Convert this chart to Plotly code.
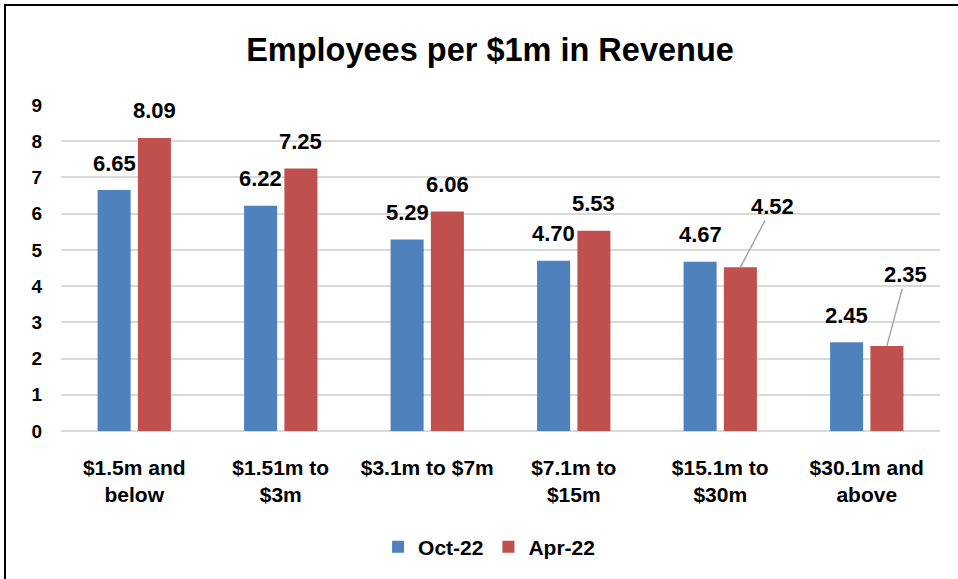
import plotly.graph_objects as go

categories = ["$1.5m and<br>below", "$1.51m to<br>$3m", "$3.1m to $7m",
              "$7.1m to<br>$15m", "$15.1m to<br>$30m", "$30.1m and<br>above"]
oct22 = [6.65, 6.22, 5.29, 4.70, 4.67, 2.45]
apr22 = [8.09, 7.25, 6.06, 5.53, 4.52, 2.35]
y_ticks = list(range(0, 10))

FONT = "Liberation Sans, Arial, sans-serif"
BLUE = "#4F81BD"
RED = "#C0504D"
BARGAP = 0.45
off = (1 - BARGAP) / 4  # center offset of each bar within the group

xpos = list(range(len(categories)))

fig = go.Figure()
fig.add_bar(x=xpos, y=oct22, name="<b>Oct-22</b>", marker_color=BLUE,
            marker_line_width=0)
fig.add_bar(x=xpos, y=apr22, name="<b>Apr-22</b>", marker_color=RED,
            marker_line_width=0)

annotations = []
label_font = dict(family=FONT, size=22, color="black")
# labels moved aside with a leader line (index: (ax, ay) in px)
leaders = {4: (32, -61), 5: (19, -71)}
for i in xpos:
    annotations.append(dict(x=i - off, y=oct22[i], xref="x", yref="y",
                            text="<b>%.2f</b>" % oct22[i], showarrow=False,
                            yshift=27, font=label_font))
    if i in leaders:
        ax, ay = leaders[i]
        annotations.append(dict(x=i + off, y=apr22[i], xref="x", yref="y",
                                text="<b>%.2f</b>" % apr22[i], showarrow=True,
                                arrowhead=0, arrowwidth=1.5, arrowcolor="#A6A6A6",
                                ax=ax, ay=ay, font=label_font, standoff=0))
    else:
        annotations.append(dict(x=i + off, y=apr22[i], xref="x", yref="y",
                                text="<b>%.2f</b>" % apr22[i], showarrow=False,
                                yshift=27, font=label_font))

fig.update_layout(
    width=958, height=579,
    margin=dict(l=61, r=18, t=105, b=148),
    paper_bgcolor="white", plot_bgcolor="white",
    barmode="group", bargap=BARGAP, bargroupgap=0.18,
    title=dict(text="<b>Employees per $1m in Revenue</b>", x=490 / 958, xanchor="center",
               y=1 - 50 / 579, yanchor="middle",
               font=dict(family=FONT, size=32.5, color="black")),
    font=dict(family=FONT, size=20, color="black"),
    showlegend=True,
    legend=dict(orientation="h", x=0.487, xanchor="center",
                y=(431 - 547) / 326, yanchor="middle",
                font=dict(family=FONT, size=21, color="black"),
                itemwidth=30, traceorder="normal"),
    annotations=annotations,
    shapes=[dict(type="rect", xref="paper", yref="paper",
                 x0=(5 - 61) / 879, x1=1.2, y0=-0.7, y1=(431 - 5) / 326,
                 line=dict(color="black", width=2), fillcolor="rgba(0,0,0,0)",
                 layer="below")],
)
fig.update_xaxes(tickmode="array", tickvals=xpos,
                 ticktext=["<b>%s</b>" % c for c in categories],
                 range=[-0.5, len(categories) - 0.5],
                 showgrid=False, showline=False, zeroline=False, ticks="",
                 ticklabelstandoff=22,
                 tickfont=dict(family=FONT, size=21, color="black"))
fig.update_yaxes(range=[0, 9], tickmode="array", tickvals=y_ticks,
                 ticktext=["<b>%d</b>" % v for v in y_ticks],
                 showgrid=True, gridcolor="#D9D9D9", gridwidth=2,
                 zeroline=True, zerolinecolor="#D9D9D9", zerolinewidth=2,
                 showline=False, ticks="", ticklabelstandoff=18,
                 tickfont=dict(family=FONT, size=19, color="black"))

fig.write_html("out.html", config={"displayModeBar": False},
               post_script="document.body.style.margin='0';")
